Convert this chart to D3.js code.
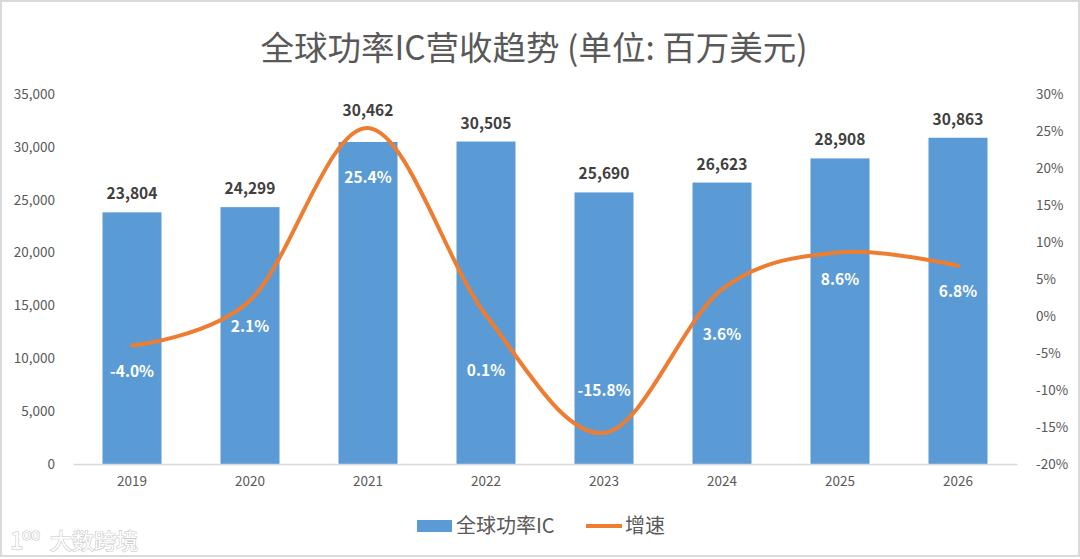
<html>
<head>
<meta charset="utf-8">
<script src="https://d3js.org/d3.v7.min.js"></script>
<style>
  body { margin: 0; background: #fff; }
  text { font-family: "Noto Sans CJK SC", "Noto Sans", sans-serif; }
</style>
</head>
<body>
<svg id="chart" width="1080" height="559"></svg>
<script>
const years = ["2019", "2020", "2021", "2022", "2023", "2024", "2025", "2026"];
const revenue = [23804, 24299, 30462, 30505, 25690, 26623, 28908, 30863];
const growth = [-4.0, 2.1, 25.4, 0.1, -15.8, 3.6, 8.6, 6.8];
const leftTicks = [0, 5000, 10000, 15000, 20000, 25000, 30000, 35000];
const rightTicks = [-20, -15, -10, -5, 0, 5, 10, 15, 20, 25, 30];

// hand placement of the labels, as in the source chart (pixels)
const barLabelLift = [0, 0, 13, 0, 0, 0, 0, 0];
const growthLabelDy = [26, 26, 49, 55, -42, 45, 27, 26];

const svg = d3.select("#chart");
const W = +svg.attr("width"), H = +svg.attr("height");
const plot = { left: 73, right: 1017, top: 94, bottom: 464 };

const textColor = "#595959";
const barColor = "#5B9BD5";
const lineColor = "#ED7D31";

svg.append("rect")
  .attr("x", 1).attr("y", 1)
  .attr("width", W - 2).attr("height", H - 4)
  .attr("fill", "#fff")
  .attr("stroke", "#d9d9d9")
  .attr("stroke-width", 2);

const x = d3.scaleBand().domain(years).range([plot.left, plot.right])
  .paddingInner(0.5).paddingOuter(0.25);
const yL = d3.scaleLinear().domain([0, 35000]).range([plot.bottom, plot.top]);
const yR = d3.scaleLinear().domain([-20, 30]).range([plot.bottom, plot.top]);

// title
svg.append("text")
  .attr("x", 534).attr("y", 60)
  .attr("text-anchor", "middle")
  .attr("font-size", 33.5)
  .attr("fill", textColor)
  .text("全球功率IC营收趋势 (单位: 百万美元)");

// left axis
const leftAxis = svg.append("g")
  .attr("transform", `translate(${plot.left - 15},0)`)
  .call(d3.axisLeft(yL).tickValues(leftTicks).tickSize(0).tickFormat(d3.format(",")));
leftAxis.select(".domain").remove();
leftAxis.selectAll("text").attr("font-size", 13.5).attr("fill", textColor).attr("font-family", "Noto Sans");

// right axis
const rightAxis = svg.append("g")
  .attr("transform", `translate(${plot.right + 16},0)`)
  .call(d3.axisRight(yR).tickValues(rightTicks).tickSize(0).tickFormat(d => d + "%"));
rightAxis.select(".domain").remove();
rightAxis.selectAll("text").attr("font-size", 13.5).attr("fill", textColor).attr("font-family", "Noto Sans");

// bars
svg.selectAll("rect.bar").data(years)
  .join("rect")
  .attr("class", "bar")
  .attr("x", d => x(d))
  .attr("width", x.bandwidth())
  .attr("y", (d, i) => yL(revenue[i]))
  .attr("height", (d, i) => yL(0) - yL(revenue[i]))
  .attr("fill", barColor);

// x axis
const bottomAxis = svg.append("g")
  .attr("transform", `translate(0,${plot.bottom})`)
  .call(d3.axisBottom(x).tickSize(0).tickPadding(12));
bottomAxis.select(".domain").attr("stroke", "#d9d9d9").attr("stroke-width", 1.5);
bottomAxis.selectAll("text").attr("font-size", 13.5).attr("fill", textColor).attr("font-family", "Noto Sans");

// bar value labels
svg.selectAll("text.barlabel").data(years)
  .join("text")
  .attr("class", "barlabel")
  .attr("x", d => x(d) + x.bandwidth() / 2)
  .attr("y", (d, i) => yL(revenue[i]) - 13 - barLabelLift[i])
  .attr("text-anchor", "middle")
  .attr("font-family", "Noto Sans")
  .attr("font-weight", "bold")
  .attr("font-size", 15.5)
  .attr("fill", "#404040")
  .text((d, i) => d3.format(",")(revenue[i]));

// growth line
const cx = d => x(d) + x.bandwidth() / 2;
const line = d3.line()
  .x(d => cx(d))
  .y((d, i) => yR(growth[i]))
  .curve(d3.curveCardinal.tension(0));

svg.append("path")
  .datum(years)
  .attr("d", line)
  .attr("fill", "none")
  .attr("stroke", lineColor)
  .attr("stroke-width", 4)
  .attr("stroke-linecap", "round");

// growth labels
svg.selectAll("text.growthlabel").data(years)
  .join("text")
  .attr("class", "growthlabel")
  .attr("x", d => cx(d))
  .attr("y", (d, i) => yR(growth[i]) + growthLabelDy[i] + 5.5)
  .attr("text-anchor", "middle")
  .attr("font-family", "Noto Sans")
  .attr("font-weight", "bold")
  .attr("font-size", 15.5)
  .attr("fill", "#fff")
  .text((d, i) => growth[i].toFixed(1) + "%");

// legend
const legend = svg.append("g");
legend.append("rect")
  .attr("x", 417).attr("y", 520)
  .attr("width", 35).attr("height", 12)
  .attr("fill", barColor);
legend.append("text")
  .attr("x", 456).attr("y", 533)
  .attr("font-size", 20)
  .attr("fill", textColor)
  .text("全球功率IC");
legend.append("line")
  .attr("x1", 586).attr("x2", 622)
  .attr("y1", 526).attr("y2", 526)
  .attr("stroke", lineColor)
  .attr("stroke-width", 4);
legend.append("text")
  .attr("x", 625).attr("y", 533)
  .attr("font-size", 20)
  .attr("fill", textColor)
  .text("增速");

// watermark
const wm = svg.append("g")
  .attr("fill", "#fff")
  .attr("stroke", "#c8c8c8")
  .attr("stroke-width", 1.2)
  .attr("paint-order", "stroke");
wm.append("text")
  .attr("x", 10).attr("y", 549)
  .attr("font-size", 24)
  .attr("font-family", "Noto Sans")
  .text("1");
wm.append("text")
  .attr("x", 22).attr("y", 540)
  .attr("font-size", 15)
  .attr("font-family", "Noto Sans")
  .text("oo");
wm.append("text")
  .attr("x", 50).attr("y", 549)
  .attr("font-size", 22)
  .text("大数跨境");
</script>
</body>
</html>
